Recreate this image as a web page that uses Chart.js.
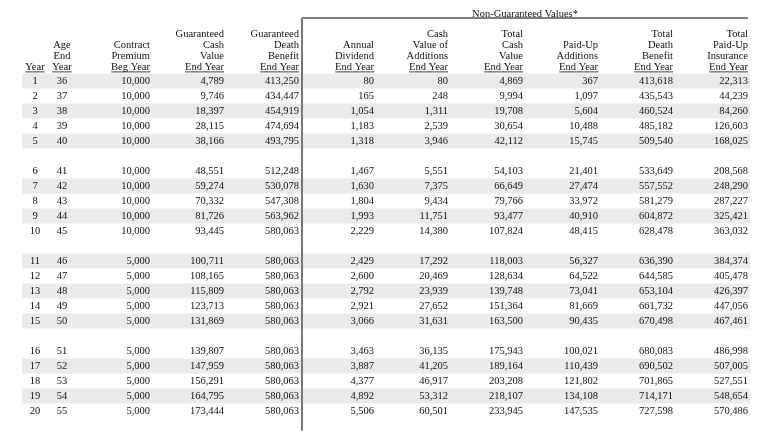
<!DOCTYPE html>
<html>
<head>
<meta charset="utf-8">
<script src="https://cdn.jsdelivr.net/npm/chart.js@4"></script>
<style>
  body { margin: 0; background: #fff; }
  #wrap { width: 768px; height: 431px; position: relative; }
</style>
</head>
<body>
<div id="wrap"><canvas id="table"></canvas></div>
<script>
const years = [1, 2, 3, 4, 5, 6, 7, 8, 9, 10, 11, 12, 13, 14, 15, 16, 17, 18, 19, 20];
const ages = [36, 37, 38, 39, 40, 41, 42, 43, 44, 45, 46, 47, 48, 49, 50, 51, 52, 53, 54, 55];
const premium = [10000, 10000, 10000, 10000, 10000, 10000, 10000, 10000, 10000, 10000,
  5000, 5000, 5000, 5000, 5000, 5000, 5000, 5000, 5000, 5000];
const guarCash = [4789, 9746, 18397, 28115, 38166, 48551, 59274, 70332, 81726, 93445,
  100711, 108165, 115809, 123713, 131869, 139807, 147959, 156291, 164795, 173444];
const guarDeath = [413250, 434447, 454919, 474694, 493795, 512248, 530078, 547308, 563962, 580063,
  580063, 580063, 580063, 580063, 580063, 580063, 580063, 580063, 580063, 580063];
const dividend = [80, 165, 1054, 1183, 1318, 1467, 1630, 1804, 1993, 2229,
  2429, 2600, 2792, 2921, 3066, 3463, 3887, 4377, 4892, 5506];
const cashAdditions = [80, 248, 1311, 2539, 3946, 5551, 7375, 9434, 11751, 14380,
  17292, 20469, 23939, 27652, 31631, 36135, 41205, 46917, 53312, 60501];
const totalCash = [4869, 9994, 19708, 30654, 42112, 54103, 66649, 79766, 93477, 107824,
  118003, 128634, 139748, 151364, 163500, 175943, 189164, 203208, 218107, 233945];
const paidUpAdds = [367, 1097, 5604, 10488, 15745, 21401, 27474, 33972, 40910, 48415,
  56327, 64522, 73041, 81669, 90435, 100021, 110439, 121802, 134108, 147535];
const totalDeath = [413618, 435543, 460524, 485182, 509540, 533649, 557552, 581279, 604872, 628478,
  636390, 644585, 653104, 661732, 670498, 680083, 690502, 701865, 714171, 727598];
const totalPaidUp = [22313, 44239, 84260, 126603, 168025, 208568, 248290, 287227, 325421, 363032,
  384374, 405478, 426397, 447056, 467461, 486998, 507005, 527551, 548654, 570486];

const headers = [
  ["Year"],
  ["Age", "End", "Year"],
  ["Contract", "Premium", "Beg Year"],
  ["Guaranteed", "Cash", "Value", "End Year"],
  ["Guaranteed", "Death", "Benefit", "End Year"],
  ["Annual", "Dividend", "End Year"],
  ["Cash", "Value of", "Additions", "End Year"],
  ["Total", "Cash", "Value", "End Year"],
  ["Paid-Up", "Additions", "End Year"],
  ["Total", "Death", "Benefit", "End Year"],
  ["Total", "Paid-Up", "Insurance", "End Year"]
];
const groupTitle = "Non-Guaranteed Values*";

// layout (x in px on x scale, y in row slots on y scale)
const columns = [years, ages, premium, guarCash, guarDeath, dividend, cashAdditions, totalCash, paidUpAdds, totalDeath, totalPaidUp];
const colX = [35, 62, 150, 224, 299, 374, 448, 523, 598, 673, 748];
const colAlign = ["center", "center", "right", "right", "right", "right", "right", "right", "right", "right", "right"];
const slot = i => i + Math.floor(i / 5);
const FONT = '10.5px "Liberation Serif", "Times New Roman", serif';
const INK = "#111";

const datasets = columns.map((vals, c) => ({
  label: headers[c].join(" "),
  data: vals.map((v, i) => ({ x: colX[c], y: slot(i) })),
  pointRadius: 0,
  showLine: false
}));

const tablePlugin = {
  id: "tablePlugin",
  beforeDatasetsDraw(chart) {
    const { ctx, scales: { x, y } } = chart;
    ctx.save();
    ctx.fillStyle = "#ebebeb";
    years.forEach((yr, i) => {
      if (i % 2 === 0) {
        const yc = y.getPixelForValue(slot(i));
        const h = Math.abs(y.getPixelForValue(0.5) - y.getPixelForValue(-0.5));
        ctx.fillRect(x.getPixelForValue(22), yc - h / 2, x.getPixelForValue(750) - x.getPixelForValue(22), h);
      }
    });
    ctx.restore();
  },
  afterDatasetsDraw(chart) {
    const { ctx, scales: { x, y } } = chart;
    ctx.save();
    ctx.font = FONT;
    ctx.fillStyle = INK;
    ctx.textBaseline = "middle";

    // body cells
    columns.forEach((vals, c) => {
      const meta = chart.getDatasetMeta(c);
      ctx.textAlign = colAlign[c];
      meta.data.forEach((pt, i) => {
        ctx.fillText(vals[i].toLocaleString("en-US"), pt.x, pt.y + 0.5);
      });
    });

    // headers, bottom line underlined
    const lineStep = 11 / 15;
    headers.forEach((lines, c) => {
      ctx.textAlign = colAlign[c];
      const px = x.getPixelForValue(colX[c]);
      lines.forEach((txt, j) => {
        const fromBottom = lines.length - 1 - j;
        const py = y.getPixelForValue(-0.933 - fromBottom * lineStep);
        ctx.fillText(txt, px, py);
        if (fromBottom === 0) {
          const w = ctx.measureText(txt).width;
          const x0 = colAlign[c] === "right" ? px - w : px - w / 2;
          ctx.fillRect(x0, py + 4.5, w, 0.8);
        }
      });
    });

    // group title + rules
    ctx.textAlign = "center";
    ctx.fillText(groupTitle, x.getPixelForValue(525), y.getPixelForValue(-4.47));
    ctx.strokeStyle = "#555";
    ctx.lineWidth = 1.5;
    ctx.beginPath();
    ctx.moveTo(x.getPixelForValue(302), y.getPixelForValue(-4.2));
    ctx.lineTo(x.getPixelForValue(748), y.getPixelForValue(-4.2));
    ctx.stroke();
    ctx.strokeStyle = "#777";
    ctx.lineWidth = 2;
    ctx.beginPath();
    ctx.moveTo(x.getPixelForValue(302), y.getPixelForValue(-4.2));
    ctx.lineTo(x.getPixelForValue(302), y.getPixelForValue(23.3));
    ctx.stroke();
    ctx.restore();
  }
};

new Chart(document.getElementById("table"), {
  type: "scatter",
  data: { datasets },
  options: {
    responsive: true,
    maintainAspectRatio: false,
    animation: false,
    layout: { padding: 0 },
    plugins: { legend: { display: false }, tooltip: { enabled: false } },
    scales: {
      x: { type: "linear", min: 0, max: 768, display: false },
      y: { type: "linear", min: -5.4, max: -5.4 + 431 / 15, reverse: true, display: false }
    }
  },
  plugins: [tablePlugin]
});
</script>
</body>
</html>
